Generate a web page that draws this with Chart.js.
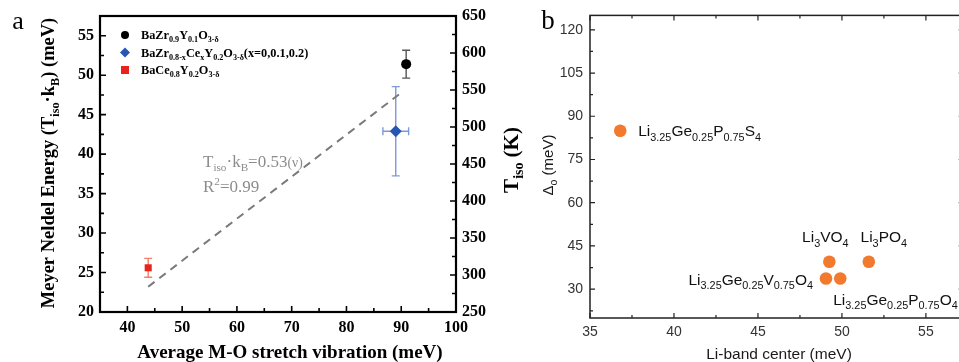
<!DOCTYPE html>
<html lang="en">
<head>
<meta charset="UTF-8">
<title>Meyer-Neldel energy vs stretch vibration / Li-band center</title>
<script src="https://cdn.jsdelivr.net/npm/chart.js"></script>
<style>
  html, body { margin: 0; padding: 0; background: #fff; overflow: hidden; }
  #wrap { position: relative; width: 959px; height: 362px; overflow: hidden; }
  #chartA { position: absolute; left: 0; top: 0; }
  #chartB { position: absolute; left: 530px; top: 0; }
</style>
</head>
<body>
<div id="wrap">
  <canvas id="chartA" width="545" height="362"></canvas>
  <canvas id="chartB" width="440" height="362"></canvas>
</div>
<script>
// ---- panel a data ----
const compoundLabels = [
  [['BaZr', ''], ['0.9', 'sub'], ['Y', ''], ['0.1', 'sub'], ['O', ''], ['3-δ', 'sub']],
  [['BaZr', ''], ['0.8-x', 'sub'], ['Ce', ''], ['x', 'sub'], ['Y', ''], ['0.2', 'sub'], ['O', ''], ['3-δ', 'sub'], ['(x=0,0.1,0.2)', '']],
  [['BaCe', ''], ['0.8', 'sub'], ['Y', ''], ['0.2', 'sub'], ['O', ''], ['3-δ', 'sub']]
];
const stretchMeV = [90.9, 89.0, 43.8];
const stretchErr = [0, 2.35, 0];
const mnEnergy = [51.4, 42.9, 25.6];
const mnEnergyErr = [1.77, 5.65, 1.2];
const fitX = [43.8, 90.4];
const fitY = [23.2, 48.0];
const aTicksX = [40, 50, 60, 70, 80, 90, 100];
const aTicksY = [20, 25, 30, 35, 40, 45, 50, 55];
const aTicksT = [250, 300, 350, 400, 450, 500, 550, 600, 650];

// ---- panel b data ----
const phaseLabels = [
  [['Li', ''], ['3.25', 'sub'], ['Ge', ''], ['0.25', 'sub'], ['P', ''], ['0.75', 'sub'], ['S', ''], ['4', 'sub']],
  [['Li', ''], ['3', 'sub'], ['VO', ''], ['4', 'sub']],
  [['Li', ''], ['3', 'sub'], ['PO', ''], ['4', 'sub']],
  [['Li', ''], ['3.25', 'sub'], ['Ge', ''], ['0.25', 'sub'], ['V', ''], ['0.75', 'sub'], ['O', ''], ['4', 'sub']],
  [['Li', ''], ['3.25', 'sub'], ['Ge', ''], ['0.25', 'sub'], ['P', ''], ['0.75', 'sub'], ['O', ''], ['4', 'sub']]
];
const liBand = [36.8, 49.25, 51.6, 49.05, 49.9];
const deltaO = [85.0, 39.5, 39.5, 33.7, 33.7];
const bTicksX = [35, 40, 45, 50, 55];
const bTicksY = [30, 45, 60, 75, 90, 105, 120];

const SERIF = "'Liberation Serif', 'Times New Roman', serif";
const SANS = "'Liberation Sans', Arial, sans-serif";

function richFont(o, k) {
  let s = o.size;
  if (k === 'sub' || k === 'sup') s = o.size * (o.subScale || 0.66);
  if (k === 'small') s = o.size * 0.8;
  return (o.weight || 'normal') + ' ' + s + 'px ' + o.family;
}

// text with sub/superscripts, y is the middle of the capitals
function drawRich(ctx, parts, x, y, o) {
  ctx.save();
  ctx.translate(x, y);
  if (o.rotate) ctx.rotate(o.rotate);
  let w = 0;
  parts.forEach(([t, k]) => { ctx.font = richFont(o, k); w += ctx.measureText(t).width; });
  let cx = o.align === 'center' ? -w / 2 : o.align === 'right' ? -w : 0;
  ctx.fillStyle = o.color || '#000';
  ctx.textBaseline = 'alphabetic';
  ctx.textAlign = 'left';
  const base = o.size * 0.34;
  parts.forEach(([t, k]) => {
    ctx.font = richFont(o, k);
    const dy = k === 'sub' ? o.size * (o.subDrop || 0.25) : k === 'sup' ? -o.size * 0.38 : 0;
    ctx.fillText(t, cx, base + dy);
    cx += ctx.measureText(t).width;
  });
  ctx.restore();
}

// inward tick marks
function tickMarks(ctx, scale, vals, len, side) {
  const a = scale.chart.chartArea;
  ctx.beginPath();
  vals.forEach(v => {
    const p = scale.getPixelForValue(v);
    if (side === 'bottom') { ctx.moveTo(p, a.bottom); ctx.lineTo(p, a.bottom - len); }
    if (side === 'top') { ctx.moveTo(p, a.top); ctx.lineTo(p, a.top + len); }
    if (side === 'left') { ctx.moveTo(a.left, p); ctx.lineTo(a.left + len, p); }
    if (side === 'right') { ctx.moveTo(a.right, p); ctx.lineTo(a.right - len, p); }
  });
  ctx.stroke();
}

function mids(vals) {
  const out = [];
  for (let i = 0; i < vals.length - 1; i++) out.push((vals[i] + vals[i + 1]) / 2);
  return out;
}

function setTicks(vals) {
  return scale => { scale.ticks = vals.map(v => ({ value: v })); };
}

// ---------------- panel a ----------------
const aStyles = ['circle', 'rectRot', 'rect'];
const aColors = ['#000000', '#2656b4', '#e8231c'];
const aErrColors = ['#555555', '#7f98d8', '#f2806c'];
const aRadius = [5, 6, 5];

function drawMarker(ctx, style, x, y, r, color) {
  ctx.save();
  ctx.fillStyle = color;
  ctx.beginPath();
  if (style === 'circle') ctx.arc(x, y, r, 0, Math.PI * 2);
  if (style === 'rect') ctx.rect(x - r, y - r, 2 * r, 2 * r);
  if (style === 'rectRot') { ctx.moveTo(x, y - r); ctx.lineTo(x + r, y); ctx.lineTo(x, y + r); ctx.lineTo(x - r, y); ctx.closePath(); }
  ctx.fill();
  ctx.restore();
}

const panelA = {
  id: 'panelA',
  beforeDatasetsDraw(chart) {
    const ctx = chart.ctx, xs = chart.scales.x, ys = chart.scales.y;
    stretchMeV.forEach((sx, i) => {
      const px = xs.getPixelForValue(sx), py = ys.getPixelForValue(mnEnergy[i]);
      const y0 = ys.getPixelForValue(mnEnergy[i] - mnEnergyErr[i]);
      const y1 = ys.getPixelForValue(mnEnergy[i] + mnEnergyErr[i]);
      ctx.save();
      ctx.strokeStyle = aErrColors[i];
      ctx.lineWidth = 1.4;
      ctx.beginPath();
      ctx.moveTo(px, y0); ctx.lineTo(px, y1);
      ctx.moveTo(px - 4, y0); ctx.lineTo(px + 4, y0);
      ctx.moveTo(px - 4, y1); ctx.lineTo(px + 4, y1);
      if (stretchErr[i]) {
        const x0 = xs.getPixelForValue(sx - stretchErr[i]);
        const x1 = xs.getPixelForValue(sx + stretchErr[i]);
        ctx.moveTo(x0, py); ctx.lineTo(x1, py);
        ctx.moveTo(x0, py - 4); ctx.lineTo(x0, py + 4);
        ctx.moveTo(x1, py - 4); ctx.lineTo(x1, py + 4);
      }
      ctx.stroke();
      ctx.restore();
    });
  },
  afterDraw(chart) {
    const ctx = chart.ctx, a = chart.chartArea;
    const xs = chart.scales.x, ys = chart.scales.y, ts = chart.scales.y2;
    ctx.save();
    ctx.strokeStyle = '#000';
    ctx.lineWidth = 2.2;
    ctx.strokeRect(a.left, a.top, a.right - a.left, a.bottom - a.top);
    ctx.lineWidth = 1.6;
    tickMarks(ctx, xs, aTicksX, 6, 'bottom');
    tickMarks(ctx, xs, mids(aTicksX), 4, 'bottom');
    tickMarks(ctx, ys, aTicksY, 6, 'left');
    tickMarks(ctx, ys, mids(aTicksY).concat([57.5]), 4, 'left');
    tickMarks(ctx, ts, aTicksT, 6, 'right');
    tickMarks(ctx, ts, mids(aTicksT), 4, 'right');
    ctx.restore();

    // legend
    compoundLabels.forEach((parts, i) => {
      const ly = 35 + i * 17.5;
      drawMarker(ctx, aStyles[i], 125, ly, aStyles[i] === 'rectRot' ? 5 : 4, aColors[i]);
      drawRich(ctx, parts, 141, ly, { size: 12.3, family: SERIF, weight: 'bold' });
    });

    // fit annotation
    drawRich(ctx, [['T', ''], ['iso', 'sub'], ['·k', ''], ['B', 'sub'], ['=0.53', ''], ['(ν)', 'small']], 203, 161,
      { size: 17, family: SERIF, color: '#8c8c8c' });
    drawRich(ctx, [['R', ''], ['2', 'sup'], ['=0.99', '']], 203, 186,
      { size: 17, family: SERIF, color: '#8c8c8c' });

    // axis titles
    drawRich(ctx, [['Average M-O stretch vibration (meV)', '']], 290, 352,
      { size: 19, family: SERIF, weight: 'bold', align: 'center' });
    drawRich(ctx, [['Meyer Neldel Energy (T', ''], ['iso', 'sub'], ['·k', ''], ['B', 'sub'], [') (meV)', '']], 48, 163,
      { size: 18.5, family: SERIF, weight: 'bold', align: 'center', rotate: -Math.PI / 2 });
    drawRich(ctx, [['T', ''], ['iso', 'sub'], [' (K)', '']], 511, 160,
      { size: 21, family: SERIF, weight: 'bold', align: 'center', rotate: -Math.PI / 2 });

    // panel letter
    ctx.save();
    ctx.font = '26px ' + SERIF;
    ctx.fillStyle = '#000';
    ctx.textAlign = 'center';
    ctx.textBaseline = 'alphabetic';
    ctx.fillText('a', 18, 29);
    ctx.restore();
  }
};

const aDatasets = stretchMeV.map((sx, i) => ({
  label: 'compound ' + (i + 1),
  data: [{ x: sx, y: mnEnergy[i] }],
  pointStyle: aStyles[i],
  pointRadius: aRadius[i],
  backgroundColor: aColors[i],
  borderColor: aColors[i],
  borderWidth: 0,
  yAxisID: 'y'
}));
aDatasets.push({
  label: 'fit',
  data: fitX.map((v, i) => ({ x: v, y: fitY[i] })),
  showLine: true,
  borderColor: '#7a7a7a',
  borderWidth: 2,
  borderDash: [8, 6],
  pointRadius: 0,
  yAxisID: 'y'
});

const serifTick = { family: SERIF, weight: 'bold', size: 16 };

new Chart(document.getElementById('chartA'), {
  type: 'scatter',
  data: { datasets: aDatasets },
  options: {
    responsive: false,
    animation: false,
    devicePixelRatio: 1,
    layout: { padding: { top: 16, left: 0, right: 0, bottom: 0 } },
    plugins: { legend: { display: false }, tooltip: { enabled: false } },
    scales: {
      x: {
        type: 'linear', position: 'bottom', min: 35, max: 100,
        afterBuildTicks: setTicks(aTicksX),
        afterFit: s => { s.height = 50; },
        grid: { display: false, drawTicks: false },
        border: { display: false },
        ticks: { font: serifTick, color: '#000', padding: 6, maxRotation: 0 }
      },
      y: {
        type: 'linear', position: 'left', min: 20, max: 57.5,
        afterBuildTicks: setTicks(aTicksY),
        afterFit: s => { s.width = 100; },
        grid: { display: false, drawTicks: false },
        border: { display: false },
        ticks: { font: serifTick, color: '#000', padding: 6 }
      },
      y2: {
        type: 'linear', position: 'right', min: 250, max: 650,
        afterBuildTicks: setTicks(aTicksT),
        afterFit: s => { s.width = 89; },
        grid: { display: false, drawTicks: false },
        border: { display: false },
        ticks: { font: serifTick, color: '#000', padding: 6 }
      }
    }
  },
  plugins: [panelA]
});

// ---------------- panel b ----------------
const bColor = '#f27a2e';
// label offsets from each point: dx, dy, align
const labelPlace = [[18, 0, 'left'], [-4, -25, 'center'], [15, -25, 'center'], [-13, 1, 'right'], [-7, 21, 'left']];

const panelB = {
  id: 'panelB',
  afterDatasetsDraw(chart) {
    const ctx = chart.ctx, xs = chart.scales.x, ys = chart.scales.y;
    phaseLabels.forEach((parts, i) => {
      const px = xs.getPixelForValue(liBand[i]), py = ys.getPixelForValue(deltaO[i]);
      const [dx, dy, al] = labelPlace[i];
      drawRich(ctx, parts, px + dx, py + dy,
        { size: 15.5, family: SANS, color: '#111', align: al, subScale: 0.7, subDrop: 0.3 });
    });
  },
  afterDraw(chart) {
    const ctx = chart.ctx, a = chart.chartArea;
    const xs = chart.scales.x, ys = chart.scales.y;
    ctx.save();
    ctx.strokeStyle = '#222';
    ctx.lineWidth = 1.5;
    ctx.strokeRect(a.left, a.top, a.right - a.left, a.bottom - a.top);
    ctx.lineWidth = 1.2;
    tickMarks(ctx, xs, bTicksX, 5, 'bottom');
    tickMarks(ctx, xs, mids(bTicksX).concat([57.5]), 3, 'bottom');
    tickMarks(ctx, xs, bTicksX, 5, 'top');
    tickMarks(ctx, xs, mids(bTicksX).concat([57.5]), 3, 'top');
    tickMarks(ctx, ys, bTicksY, 5, 'left');
    tickMarks(ctx, ys, mids(bTicksY).concat([22.5]), 3, 'left');
    tickMarks(ctx, ys, bTicksY, 5, 'right');
    ctx.restore();

    drawRich(ctx, [['Li-band center (meV)', '']], 249, 354,
      { size: 15.5, family: SANS, color: '#1a1a1a', align: 'center' });
    drawRich(ctx, [['Δ', ''], ['o', 'sub'], [' (meV)', '']], 18, 165,
      { size: 15, family: SANS, color: '#1a1a1a', align: 'center', rotate: -Math.PI / 2, subScale: 0.7 });

    ctx.save();
    ctx.font = '27px ' + SERIF;
    ctx.fillStyle = '#000';
    ctx.textAlign = 'center';
    ctx.textBaseline = 'alphabetic';
    ctx.fillText('b', 18, 29);
    ctx.restore();
  }
};

const sansTick = { family: SANS, size: 14 };

new Chart(document.getElementById('chartB'), {
  type: 'scatter',
  data: {
    datasets: [{
      label: 'Li conductors',
      data: liBand.map((v, i) => ({ x: v, y: deltaO[i] })),
      pointStyle: 'circle',
      pointRadius: 6.3,
      backgroundColor: bColor,
      borderWidth: 0
    }]
  },
  options: {
    responsive: false,
    animation: false,
    devicePixelRatio: 1,
    layout: { padding: { top: 14, left: 0, right: 6, bottom: 0 } },
    plugins: { legend: { display: false }, tooltip: { enabled: false } },
    scales: {
      x: {
        type: 'linear', position: 'bottom', min: 35, max: 57.25,
        afterBuildTicks: setTicks(bTicksX),
        afterFit: s => { s.height = 44; },
        grid: { display: false, drawTicks: false },
        border: { display: false },
        ticks: { font: sansTick, color: '#333', padding: 6, maxRotation: 0 }
      },
      y: {
        type: 'linear', position: 'left', min: 20, max: 125,
        afterBuildTicks: setTicks(bTicksY),
        afterFit: s => { s.width = 60; },
        grid: { display: false, drawTicks: false },
        border: { display: false },
        ticks: { font: sansTick, color: '#333', padding: 7 }
      }
    }
  },
  plugins: [panelB]
});
</script>
</body>
</html>
